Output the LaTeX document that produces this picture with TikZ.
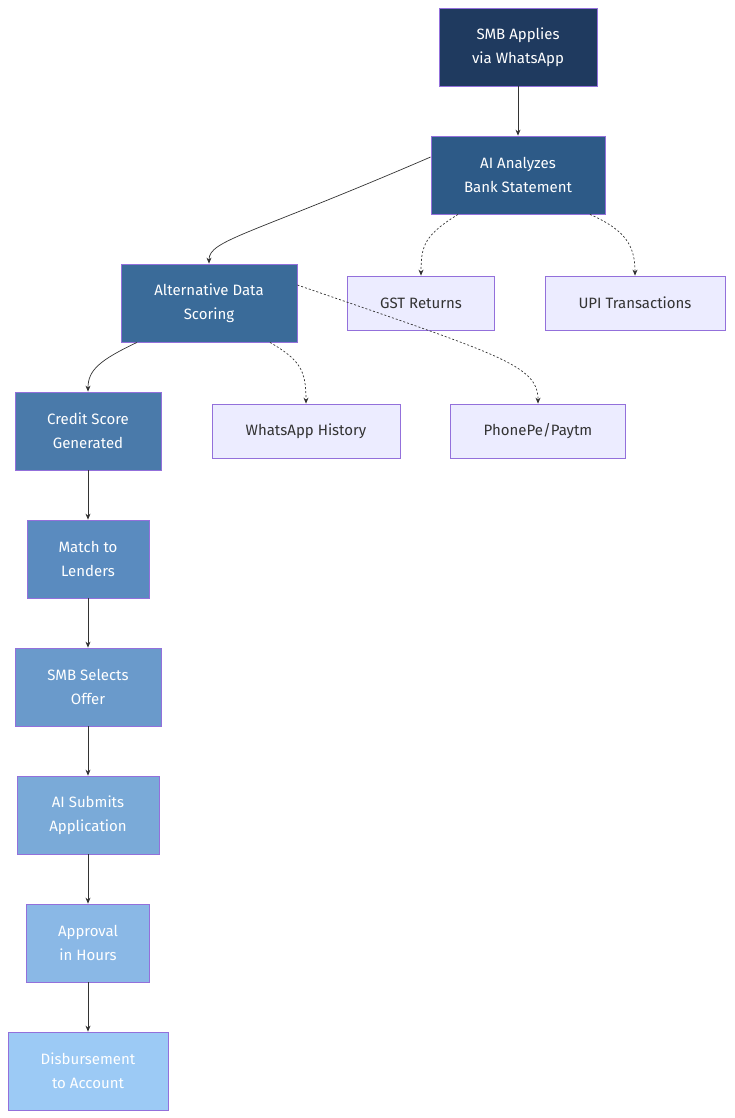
\documentclass[tikz,border=0pt]{standalone}
\usepackage{fontspec}
\setmainfont{Fira Sans}
\usetikzlibrary{positioning,calc,arrows.meta}
\tikzset{>={Stealth[length=6pt,width=5pt]}}
\definecolor{edgec}{HTML}{333333}
\definecolor{bordc}{HTML}{9370DB}
\definecolor{lightc}{HTML}{ECECFF}
\tikzset{
  box/.style={draw=bordc,line width=0.8pt,minimum height=78pt,align=center,
    text=white,font=\fontsize{15}{24}\selectfont},
  src/.style={draw=bordc,line width=0.8pt,fill=lightc,minimum height=54pt,
    text=black!80,font=\fontsize{15}{24}\selectfont},
  flow/.style={->,draw=edgec,line width=0.7pt},
  feed/.style={->,draw=edgec,line width=0.7pt,dash pattern=on 2pt off 2pt}
}

\begin{document}
\begin{tikzpicture}[x=1pt,y=-1pt]
\useasboundingbox (0,0) rectangle (734,1118);
\node[box,fill={rgb,255:red,31;green,58;blue,95},minimum width=158pt] (apply) at (518,47) {SMB Applies\\via WhatsApp};
\node[box,fill={rgb,255:red,45;green,90;blue,135},minimum width=174pt] (analyze) at (518,175) {AI Analyzes\\Bank Statement};
\node[box,fill={rgb,255:red,58;green,107;blue,153},minimum width=176pt] (alt) at (209,303) {Alternative Data\\Scoring};
\node[src,minimum width=147pt] (gst) at (421,303) {GST Returns};
\node[src,minimum width=180pt] (upi) at (635,303) {UPI Transactions};
\node[box,fill={rgb,255:red,74;green,122;blue,170},minimum width=146pt] (score) at (88,431) {Credit Score\\Generated};
\node[src,minimum width=188pt] (wa) at (306,431) {WhatsApp History};
\node[src,minimum width=175pt] (pp) at (538,431) {PhonePe/Paytm};
\node[box,fill={rgb,255:red,90;green,139;blue,191},minimum width=122pt] (match) at (88,559) {Match to\\Lenders};
\node[box,fill={rgb,255:red,106;green,154;blue,203},minimum width=146pt] (select) at (88,687) {SMB Selects\\Offer};
\node[box,fill={rgb,255:red,122;green,170;blue,216},minimum width=142pt] (submit) at (88,815) {AI Submits\\Application};
\node[box,fill={rgb,255:red,138;green,184;blue,230},minimum width=123pt] (approve) at (88,943) {Approval\\in Hours};
\node[box,fill={rgb,255:red,156;green,202;blue,245},minimum width=160pt] (pay) at (88,1071) {Disbursement\\to Account};
% main flow
\draw[flow] (apply) -- (analyze);
\draw[flow] ([yshift=18pt]analyze.west) .. controls (250,235) and (209,240) .. (alt.north);
\draw[flow] ([xshift=-72pt]alt.south) .. controls (100,360) and (88,370) .. (score.north);
\draw[flow] (score) -- (match);
\draw[flow] (match) -- (select);
\draw[flow] (select) -- (submit);
\draw[flow] (submit) -- (approve);
\draw[flow] (approve) -- (pay);
% data feeds
\draw[feed] ([xshift=-60pt]analyze.south) .. controls (425,235) and (421,245) .. (gst.north);
\draw[feed] ([xshift=72pt]analyze.south) .. controls (625,230) and (635,245) .. (upi.north);
\draw[feed] ([xshift=61pt]alt.south) .. controls (300,360) and (306,370) .. (wa.north);
\draw[feed] ([yshift=18pt]alt.east) .. controls (500,355) and (538,365) .. (pp.north);
\end{tikzpicture}
\end{document}
